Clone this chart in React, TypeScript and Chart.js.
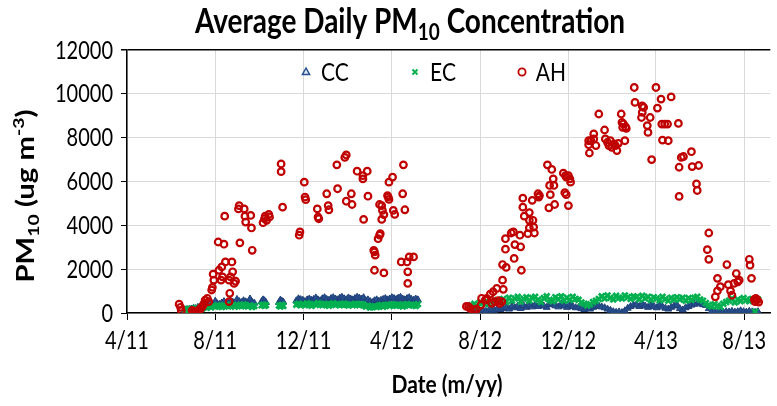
import React, { useEffect, useRef } from 'react';
import { Chart, registerables } from 'chart.js';

Chart.register(...registerables);

// x values are days since 2011-04-01
const TICK_DAYS = [0, 122, 244, 366, 488, 610, 731, 853];
const TICK_LABELS = ['4/11', '8/11', '12/11', '4/12', '8/12', '12/12', '4/13', '8/13'];
const X_MAX = 889;
const Y_TICKS = [0, 2000, 4000, 6000, 8000, 10000, 12000];
const Y_MAX = 12000;

const ahDays = [
  72, 74, 75, 90, 92, 93, 95, 96, 98, 99,
  101, 102, 104, 106, 108, 111, 113, 117, 118, 119,
  120, 126, 127, 130, 131, 132, 134, 135, 136, 141,
  141, 142, 143, 145, 146, 148, 150, 154, 155, 156,
  162, 163, 164, 171, 172, 173, 188, 190, 191, 193,
  196, 197, 213, 213, 215, 238, 239, 245, 246, 247,
  263, 264, 265, 276, 278, 279, 290, 291, 301, 303,
  303, 310, 311, 318, 326, 326, 327, 332, 333, 341,
  342, 342, 343, 347, 349, 349, 350, 352, 352, 353,
  355, 355, 360, 361, 362, 362, 367, 368, 370, 379,
  381, 382, 384, 387, 388, 388, 390, 396,
  469, 472, 474, 479, 483, 489, 490, 495, 497, 502,
  504, 506, 508, 511, 513, 515, 518, 519, 519, 520,
  523, 523, 524, 531, 534, 535, 536, 543, 544, 545,
  547, 547, 549, 554, 556, 556, 556, 560, 561, 562,
  563, 568, 569, 570, 581, 583, 584, 585, 587, 589,
  590, 591, 603, 605, 606, 607, 607, 610, 610, 612,
  613, 638, 638, 639, 641, 645, 645, 648, 652, 660,
  661, 664, 666, 668, 670, 673, 675, 677, 679, 683,
  684, 685, 686, 688, 689, 690, 701, 702, 711, 712,
  712, 714, 719, 720, 723, 725, 731, 733, 738, 739,
  740, 743, 747, 748, 752, 762, 763, 763, 766, 769,
  780, 781, 787, 788, 790, 802, 804, 804, 813, 816,
  816, 820, 829, 831, 834, 836, 839, 842, 844, 846,
  860, 861, 863, 867, 868, 869, 871, 873,
];
const ahValues = [
  400, 260, 110, 120, 50, 20, 40, 80, 50, 120,
  170, 230, 290, 400, 590, 670, 520, 1050, 1170, 1770,
  1500, 3240, 1950, 1500, 2100, 1650, 3140, 4420, 2330, 1500,
  520, 900, 1650, 2330, 1880, 1350, 1450, 4750, 4900, 3200,
  4750, 4420, 4150, 4450, 3880, 2860, 4120, 4300, 4420, 4230,
  4500, 4380, 6800, 6450, 4830, 3550, 3700, 5970, 5290, 5170,
  4750, 4380, 4300, 5440, 4900, 4710, 6760, 5670, 7100, 7210,
  5100, 5440, 4950, 6470, 6270, 6120, 4270, 6470, 5330, 2860,
  2790, 1950, 2640, 3390, 3550, 4950, 3620, 4900, 4270, 4680,
  4490, 1830, 5360, 5290, 5180, 5970, 6200, 4680, 4500, 2330,
  5440, 6760, 4710, 2330, 1880, 1350, 2560, 2560,
  300, 290, 210, 140, 180, 360, 670, 590, 670, 860,
  440, 970, 520, 1120, 560, 440, 515, 1500, 2210, 1080,
  2910, 3390, 2080, 3650, 3700, 2490, 3120, 3550, 3020, 1950,
  5240, 4830, 4420, 3620, 3880, 4230, 4580, 5140, 4230, 3920,
  3650, 5440, 5290, 5360, 6760, 4800, 5820, 5400, 6550, 6120,
  5820, 4950, 6380, 5490, 6270, 6200, 5400, 6270, 4900, 6120,
  5970, 7860, 7680, 7300, 7860, 8170, 7940, 7640, 9080, 8350,
  7940, 7790, 7640, 7860, 7560, 7710, 7640, 7410, 7740, 9080,
  8700, 8470, 8630, 7860, 8490, 8420, 10290, 9610, 8920, 9450,
  9150, 9380, 8550, 8240, 8920, 7000, 10290, 9350, 9760, 8620,
  7890, 8620, 8620, 7860, 9860, 8650, 6650, 5320, 7100, 7140,
  7360, 6680, 5890, 5590, 6730, 2890, 3650, 2450, 740, 1580,
  1010, 1200, 2210, 1290, 1010, 810, 1350, 1800, 1420, 1500,
  2450, 2180, 1580, 620, 520, 670, 600, 500,
];

const bandDays1 = [
  80, 83, 86, 89, 92, 95, 98, 101, 104, 107, 110, 113, 116, 119, 122, 125, 128,
  131, 134, 137, 140, 143, 146, 149, 152, 155, 158, 161, 164, 167, 170, 173, 176,
  186, 188, 190, 192, 210, 212, 214, 216,
  234, 237, 240, 243, 246, 249, 252, 255, 258, 261, 264, 267, 270, 273, 276, 279,
  282, 285, 288, 291, 294, 297, 300, 303, 306, 309, 312, 315, 318, 321, 324, 327,
  330, 333, 336, 339, 342, 345, 348, 351, 354, 357, 360, 363, 366, 369, 372, 375,
  378, 381, 384, 387, 390, 393, 396, 399, 402,
];
const cc1 = [
  120, 160, 100, 180, 220, 200, 260, 240, 300, 280, 330, 310, 380, 360, 540, 420, 390,
  460, 520, 430, 470, 560, 500, 450, 620, 520, 480, 560, 510, 470, 640, 490, 450,
  520, 600, 560, 480, 480, 590, 540, 500,
  560, 650, 610, 580, 520, 600, 640, 580, 620, 690, 600, 560, 650, 700, 620, 580,
  660, 700, 640, 600, 680, 720, 650, 610, 690, 640, 600, 660, 720, 680, 640, 700,
  560, 600, 520, 480, 560, 600, 540, 580, 620, 660, 600, 640, 700, 660, 620, 680,
  720, 640, 600, 660, 700, 620, 580, 640, 600,
];
const ec1 = [
  150, 180, 120, 200, 160, 230, 190, 250, 210, 280, 240, 300, 260, 330, 290, 350, 310,
  280, 360, 320, 300, 380, 340, 290, 370, 330, 310, 390, 350, 300, 340, 280, 320,
  350, 380, 330, 360, 340, 300, 370, 320,
  380, 420, 350, 400, 360, 440, 390, 330, 410, 370, 450, 400, 360, 420, 380, 330,
  400, 440, 370, 410, 350, 390, 430, 380, 340, 400, 360, 420, 390, 350, 410, 370,
  300, 330, 250, 280, 310, 270, 330, 360, 290, 340, 380, 320, 400, 360, 330, 390,
  350, 300, 370, 410, 340, 380, 360, 320, 400,
];

const bandDays2 = [
  476, 480, 484, 488, 492, 496, 500, 504, 508, 512, 516,
  520, 524, 528, 532, 536, 540, 544, 548, 552, 556, 560,
  564, 568, 572, 576, 580, 584, 588, 592, 596, 600, 604, 608, 612, 616, 620,
  624, 628, 632, 636, 640, 644, 648,
  652, 656, 660, 664, 668, 672, 676, 680, 684, 688, 692, 696, 700,
  704, 708, 712, 716, 720, 724, 728, 732, 736, 740, 744, 748, 752, 756, 760,
  764, 768, 772, 776, 780, 784, 788, 792, 796,
  800, 804, 808, 812, 816, 820, 824, 828,
  832, 836, 840, 844, 848, 852, 856, 860, 864, 868, 872,
];
const cc2 = [
  80, 60, 100, 90, 120, 80, 110, 150, 130, 180, 160,
  200, 260, 180, 300, 240, 320, 210, 340, 260, 360, 280,
  380, 300, 400, 320, 260, 380, 420, 330, 280, 400, 320, 260, 380, 300, 240,
  250, 200, 160, 240, 180, 260, 300,
  320, 280, 240, 180, 120, 60, 30, 50, 20, 100, 220, 300, 360,
  380, 300, 400, 320, 260, 380, 300, 240, 360, 280, 220, 180, 260, 320, 360,
  200, 140, 240, 300, 360, 400, 420, 480, 380,
  350, 200, 80, 40, 30, 50, 40, 60,
  50, 80, 40, 60, 100, 60, 40, 80, 50, 30, 60,
];
const ec2 = [
  350, 420, 300, 480, 450, 520, 400, 560, 500, 590, 540,
  640, 500, 700, 560, 660, 740, 520, 650, 720, 560, 680,
  740, 600, 500, 680, 760, 600, 540, 720, 620, 760, 560, 700, 600, 740, 640,
  600, 480, 420, 340, 400, 500, 560,
  640, 760, 660, 800, 700, 620, 780, 700, 660, 800, 720, 640, 760,
  720, 620, 780, 660, 740, 600, 720, 660, 580, 740, 640, 560, 700, 620, 720,
  620, 700, 560, 680, 600, 700, 740, 620, 560,
  450, 360, 300, 400, 330, 280, 420, 500,
  560, 660, 480, 620, 540, 680, 600, 540, 640, 60, 620,
];

const FONT = 'Lato, "Open Sans", sans-serif';
const BLUE = '#27508f';
const GREEN = '#00b050';
const RED = '#c00000';
const SY = 1.22; // vertical stretch of lettering, as in the reference

type Part = { t: string; size: number; dy: number };

function drawParts(
  ctx: CanvasRenderingContext2D,
  parts: Part[],
  x: number,
  baseline: number,
  bold: boolean,
  align: 'center' | 'right' = 'center',
  rotate = false,
) {
  ctx.save();
  ctx.translate(x, baseline);
  ctx.scale(1, SY);
  if (rotate) ctx.rotate(-Math.PI / 2);
  const w: number[] = [];
  let total = 0;
  for (const p of parts) {
    ctx.font = `${bold ? 'bold ' : ''}${p.size}px ${FONT}`;
    const m = ctx.measureText(p.t).width;
    w.push(m);
    total += m;
  }
  let cx = align === 'center' ? -total / 2 : -total;
  ctx.textAlign = 'left';
  ctx.textBaseline = 'alphabetic';
  parts.forEach((p, i) => {
    ctx.font = `${bold ? 'bold ' : ''}${p.size}px ${FONT}`;
    ctx.fillText(p.t, cx, p.dy);
    cx += w[i];
  });
  ctx.restore();
}

const textPlugin = {
  id: 'texts',
  afterDraw(chart: any) {
    const ctx: CanvasRenderingContext2D = chart.ctx;
    const xs = chart.scales.x;
    const ys = chart.scales.y;
    ctx.save();
    ctx.fillStyle = '#000';
    // title
    drawParts(ctx, [
      { t: 'Average Daily PM', size: 28, dy: 0 },
      { t: '10', size: 19, dy: 6 },
      { t: ' Concentration', size: 28, dy: 0 },
    ], 410, 33, true);
    // x tick labels
    TICK_DAYS.forEach((d, i) => {
      drawParts(ctx, [{ t: TICK_LABELS[i], size: 20, dy: 0 }], xs.getPixelForValue(d), 349, false);
    });
    // y tick labels
    Y_TICKS.forEach((v) => {
      drawParts(ctx, [{ t: String(v), size: 20, dy: 0 }], 113, ys.getPixelForValue(v) + 8.5, false, 'right');
    });
    // x title
    drawParts(ctx, [{ t: 'Date (m/yy)', size: 21, dy: 0 }], 447, 393, true);
    // y title (rotated)
    drawParts(ctx, [
      { t: 'PM', size: 24, dy: 0 },
      { t: '10', size: 16, dy: 5 },
      { t: ' (ug m', size: 24, dy: 0 },
      { t: '-3', size: 16, dy: -10 },
      { t: ')', size: 24, dy: 0 },
    ], 34, 196, true, 'center', true);
    // legend
    const ly = 72;
    // CC
    let mx = 306;
    ctx.beginPath();
    ctx.moveTo(mx, ly - 4);
    ctx.lineTo(mx - 3.6, ly + 2.5);
    ctx.lineTo(mx + 3.6, ly + 2.5);
    ctx.closePath();
    ctx.fillStyle = '#dfe7f3';
    ctx.fill();
    ctx.strokeStyle = BLUE;
    ctx.lineWidth = 1.5;
    ctx.stroke();
    ctx.fillStyle = '#000';
    drawParts(ctx, [{ t: 'CC', size: 21, dy: 0 }], 335, ly + 9, false);
    // EC
    mx = 415;
    ctx.beginPath();
    ctx.moveTo(mx - 2.5, ly - 2.5);
    ctx.lineTo(mx + 2.5, ly + 2.5);
    ctx.moveTo(mx + 2.5, ly - 2.5);
    ctx.lineTo(mx - 2.5, ly + 2.5);
    ctx.strokeStyle = GREEN;
    ctx.lineWidth = 2;
    ctx.stroke();
    drawParts(ctx, [{ t: 'EC', size: 21, dy: 0 }], 443, ly + 9, false);
    // AH
    mx = 522;
    ctx.beginPath();
    ctx.arc(mx, ly, 3.6, 0, Math.PI * 2);
    ctx.strokeStyle = RED;
    ctx.lineWidth = 1.8;
    ctx.stroke();
    drawParts(ctx, [{ t: 'AH', size: 21, dy: 0 }], 551, ly + 9, false);
    ctx.restore();
  },
};

function pts(days: number[], vals: number[]) {
  return days.map((d, i) => ({ x: d, y: vals[i] }));
}

export default function App() {
  const ref = useRef<HTMLCanvasElement | null>(null);
  useEffect(() => {
    if (!ref.current) return;
    const chart = new Chart(ref.current, {
      type: 'scatter',
      data: {
        datasets: [
          {
            label: 'CC',
            data: [...pts(bandDays1, cc1), ...pts(bandDays2, cc2)],
            pointStyle: 'triangle',
            radius: 4,
            backgroundColor: BLUE,
            borderColor: '#1f3f78',
            borderWidth: 1,
            order: 2,
          },
          {
            label: 'EC',
            data: [...pts(bandDays1, ec1), ...pts(bandDays2, ec2)],
            pointStyle: 'crossRot',
            radius: 4,
            borderColor: GREEN,
            backgroundColor: GREEN,
            borderWidth: 2.7,
            order: 1,
          },
          {
            label: 'AH',
            data: pts(ahDays, ahValues),
            pointStyle: 'circle',
            radius: 3.3,
            backgroundColor: 'rgba(0,0,0,0)',
            borderColor: RED,
            borderWidth: 2.2,
            order: 0,
          },
        ],
      } as any,
      options: {
        responsive: false,
        animation: false,
        devicePixelRatio: 1,
        layout: { padding: { top: 50, right: 1, left: 0, bottom: 0 } },
        plugins: {
          legend: { display: false },
          tooltip: { enabled: false },
          title: { display: false },
        },
        scales: {
          x: {
            type: 'linear',
            min: 0,
            max: X_MAX,
            afterBuildTicks: (s: any) => {
              s.ticks = TICK_DAYS.map((v) => ({ value: v }));
            },
            afterFit: (s: any) => {
              s.height = 93;
            },
            ticks: { display: false },
            grid: { color: '#d9d9d9', lineWidth: 1, tickColor: '#000', tickLength: 7 },
            border: { color: '#000', width: 1.5 },
          },
          y: {
            min: 0,
            max: Y_MAX,
            afterBuildTicks: (s: any) => {
              s.ticks = Y_TICKS.map((v) => ({ value: v }));
            },
            afterFit: (s: any) => {
              s.width = 127;
            },
            ticks: { display: false },
            grid: {
              color: (c: any) => (c.tick && c.tick.value === Y_MAX ? '#000' : '#d9d9d9'),
              lineWidth: (c: any) => (c.tick && c.tick.value === Y_MAX ? 1.5 : 1),
              tickColor: '#000',
              tickLength: 6,
            },
            border: { color: '#000', width: 1.5 },
          },
        },
      } as any,
      plugins: [textPlugin],
    });
    return () => chart.destroy();
  }, []);
  return (
    <div style={{ position: 'absolute', left: 0, top: 0, width: 777, height: 406, background: '#fff' }}>
      <canvas ref={ref} width={777} height={406} />
    </div>
  );
}
